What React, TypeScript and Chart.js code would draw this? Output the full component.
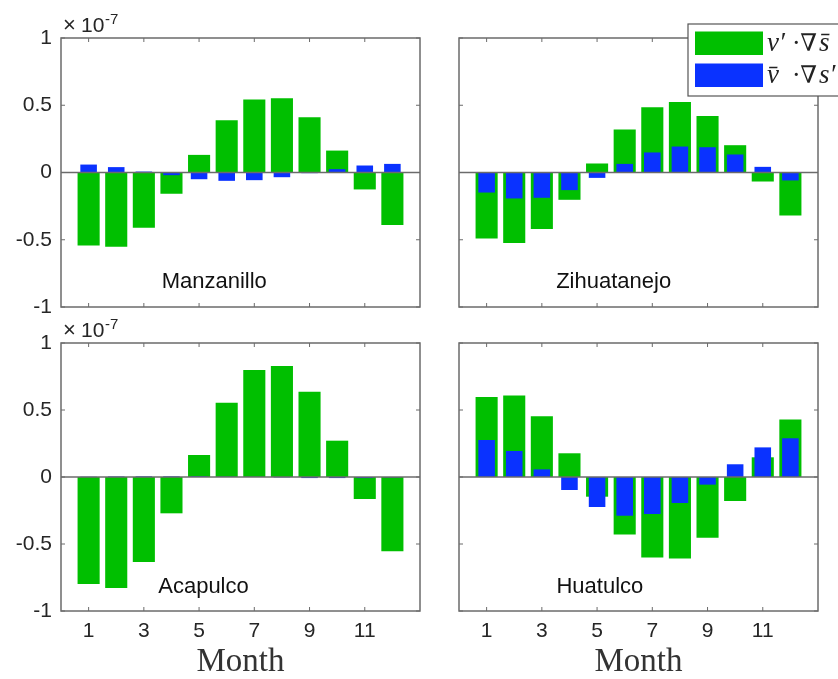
import React, { useEffect, useRef } from 'react';
import { Chart, registerables } from 'chart.js';

Chart.register(...registerables);

// ---------- data (values in units of 1e-7) ----------
const months = [1, 2, 3, 4, 5, 6, 7, 8, 9, 10, 11, 12];
const xTickValues = [1, 3, 5, 7, 9, 11];
const yTickValues = [-1, -0.5, 0, 0.5, 1];
const yTickLabels = ['-1', '-0.5', '0', '0.5', '1'];
const xAxisTitle = 'Month';
const exponentBase = '10';
const exponentPower = '-7';

const legendGreenLabel = 'v′ ·∇ s̄';
const legendBlueLabel = 'v̄ ·∇ s′';

const manzanilloGreen = [-0.542, -0.552, -0.411, -0.158, 0.131, 0.389, 0.542, 0.552, 0.411, 0.163, -0.126, -0.391];
const manzanilloBlue = [0.059, 0.04, 0.007, -0.02, -0.05, -0.062, -0.057, -0.035, -0.005, 0.025, 0.052, 0.064];

const zihuatanejoGreen = [-0.49, -0.525, -0.421, -0.203, 0.067, 0.319, 0.485, 0.525, 0.421, 0.203, -0.067, -0.319];
const zihuatanejoBlue = [-0.149, -0.193, -0.188, -0.131, -0.04, 0.064, 0.149, 0.193, 0.188, 0.134, 0.042, -0.059];

const acapulcoGreen = [-0.799, -0.828, -0.634, -0.271, 0.164, 0.555, 0.799, 0.828, 0.637, 0.271, -0.164, -0.555];
const acapulcoBlue = [0.002, 0.004, 0.005, 0.005, 0.005, 0.002, 0.001, -0.003, -0.008, -0.008, -0.008, -0.003];

const huatulcoGreen = [0.597, 0.609, 0.453, 0.177, -0.147, -0.43, -0.6, -0.609, -0.453, -0.179, 0.147, 0.43];
const huatulcoBlue = [0.276, 0.194, 0.057, -0.097, -0.224, -0.289, -0.276, -0.194, -0.057, 0.095, 0.221, 0.289];

// ---------- styles ----------
const GREEN = '#00bf00';
const BLUE = '#0a32ff';
const AXIS = '#6b6b6b';
const TEXT = '#262626';
const SANS = '"Liberation Sans", Arial, sans-serif';
const SERIF = '"Liberation Serif", "DejaVu Serif", serif';
const MATH = '"DejaVu Serif", serif';

type PanelCfg = {
  name: string;
  green: number[];
  blue: number[];
  left: number;
  top: number;
  w: number;
  h: number;
  padTop: number;
  padRight: number;
  yWidth: number;
  xHeight: number;
  showY: boolean;
  showX: boolean;
  nameX: number;
  nameY: number;
  exponent: boolean;
  legend: boolean;
};

const panels: PanelCfg[] = [
  { name: 'Manzanillo', green: manzanilloGreen, blue: manzanilloBlue, left: 0, top: 0, w: 430, h: 320, padTop: 38, padRight: 10, yWidth: 61, xHeight: 13, showY: true, showX: false, nameX: 5.55, nameY: -0.81, exponent: true, legend: false },
  { name: 'Zihuatanejo', green: zihuatanejoGreen, blue: zihuatanejoBlue, left: 430, top: 0, w: 408, h: 320, padTop: 38, padRight: 20, yWidth: 29, xHeight: 13, showY: false, showX: false, nameX: 5.6, nameY: -0.81, exponent: false, legend: true },
  { name: 'Acapulco', green: acapulcoGreen, blue: acapulcoBlue, left: 0, top: 310, w: 430, h: 369, padTop: 33, padRight: 10, yWidth: 61, xHeight: 68, showY: true, showX: true, nameX: 5.16, nameY: -0.82, exponent: true, legend: false },
  { name: 'Huatulco', green: huatulcoGreen, blue: huatulcoBlue, left: 430, top: 310, w: 408, h: 369, padTop: 33, padRight: 20, yWidth: 29, xHeight: 68, showY: false, showX: true, nameX: 5.1, nameY: -0.82, exponent: false, legend: false },
];

function makeOverlay(cfg: PanelCfg) {
  return {
    id: 'overlay',
    afterDraw(chart: any) {
      const { ctx, chartArea: a, scales } = chart;
      const xs = scales.x;
      const ys = scales.y;
      const line = (x1: number, y1: number, x2: number, y2: number) => {
        ctx.beginPath();
        ctx.moveTo(x1, y1);
        ctx.lineTo(x2, y2);
        ctx.stroke();
      };
      ctx.save();
      ctx.strokeStyle = AXIS;
      ctx.lineWidth = 1.5;
      // zero baseline
      const y0 = ys.getPixelForValue(0);
      line(a.left, y0, a.right, y0);
      // frame
      ctx.strokeRect(a.left, a.top, a.right - a.left, a.bottom - a.top);
      // inward tick marks
      ctx.lineWidth = 1;
      xTickValues.forEach((v) => {
        const px = xs.getPixelForValue(v);
        line(px, a.top, px, a.top + 4);
        line(px, a.bottom, px, a.bottom - 4);
      });
      yTickValues.forEach((v) => {
        const py = ys.getPixelForValue(v);
        line(a.left, py, a.left + 4, py);
        line(a.right, py, a.right - 4, py);
      });
      // station name
      ctx.fillStyle = '#111';
      ctx.font = `22px ${SANS}`;
      ctx.textAlign = 'center';
      ctx.textBaseline = 'middle';
      ctx.fillText(cfg.name, xs.getPixelForValue(cfg.nameX), ys.getPixelForValue(cfg.nameY));
      // exponent
      if (cfg.exponent) {
        ctx.fillStyle = TEXT;
        ctx.textAlign = 'left';
        ctx.textBaseline = 'alphabetic';
        ctx.font = `22px ${SANS}`;
        ctx.fillText('×', a.left + 2, a.top - 6);
        ctx.font = `21px ${SANS}`;
        ctx.fillText(exponentBase, a.left + 20, a.top - 6);
        ctx.font = `15px ${SANS}`;
        ctx.fillText(exponentPower, a.left + 44, a.top - 14);
      }
      // legend
      if (cfg.legend) {
        const bx = a.right - 130;
        const by = a.top - 14;
        ctx.fillStyle = '#fff';
        ctx.fillRect(bx, by, 200, 72);
        ctx.strokeStyle = '#555';
        ctx.lineWidth = 1.2;
        ctx.strokeRect(bx, by, 200, 72);
        const ds = chart.data.datasets;
        const rows = [
          { color: GREEN, label: ds[1].label, y: a.top - 6.5 },
          { color: BLUE, label: ds[0].label, y: a.top + 25.5 },
        ];
        rows.forEach((r) => {
          ctx.fillStyle = r.color;
          ctx.fillRect(bx + 7, r.y, 68, 23.5);
          const parts = String(r.label).split(' ');
          const base = r.y + 19;
          ctx.fillStyle = '#222';
          ctx.textBaseline = 'alphabetic';
          ctx.font = `italic 27px ${SERIF}`;
          ctx.textAlign = 'left';
          ctx.fillText(parts[0], bx + 79, base);
          ctx.font = `24px ${MATH}`;
          ctx.textAlign = 'right';
          ctx.fillText(parts[1], bx + 129, base);
          ctx.font = `italic 27px ${SERIF}`;
          ctx.textAlign = 'left';
          ctx.fillText(parts[2], bx + 131, base);
        });
      }
      ctx.restore();
    },
  };
}

function makeConfig(cfg: PanelCfg): any {
  return {
    type: 'bar',
    data: {
      datasets: [
        {
          label: legendBlueLabel,
          data: months.map((m, i) => ({ x: m, y: cfg.blue[i] })),
          backgroundColor: BLUE,
          barPercentage: 0.6,
          categoryPercentage: 1,
          grouped: false,
          order: 0,
        },
        {
          label: legendGreenLabel,
          data: months.map((m, i) => ({ x: m, y: cfg.green[i] })),
          backgroundColor: GREEN,
          barPercentage: 0.8,
          categoryPercentage: 1,
          grouped: false,
          order: 1,
        },
      ],
    },
    options: {
      responsive: false,
      animation: false,
      devicePixelRatio: 1,
      layout: { padding: { top: cfg.padTop, right: cfg.padRight, left: 0, bottom: 0 } },
      plugins: { legend: { display: false }, tooltip: { enabled: false } },
      scales: {
        x: {
          type: 'linear',
          min: 0,
          max: 13,
          offset: false,
          grid: { display: false, drawTicks: false },
          border: { display: false },
          afterBuildTicks: (s: any) => {
            s.ticks = xTickValues.map((v) => ({ value: v }));
          },
          ticks: {
            display: cfg.showX,
            autoSkip: false,
            maxRotation: 0,
            padding: 8,
            color: TEXT,
            font: { family: SANS, size: 21 },
            callback: (v: number) => String(v),
          },
          title: {
            display: cfg.showX,
            text: xAxisTitle,
            color: '#333',
            font: { family: SERIF, size: 33, lineHeight: 1 },
            padding: { top: 0, bottom: 0 },
          },
          afterFit: (s: any) => {
            s.height = cfg.xHeight;
            s.paddingLeft = 0;
            s.paddingRight = 0;
          },
        },
        y: {
          type: 'linear',
          min: -1,
          max: 1,
          grid: { display: false, drawTicks: false },
          border: { display: false },
          afterBuildTicks: (s: any) => {
            s.ticks = yTickValues.map((v) => ({ value: v }));
          },
          ticks: {
            display: cfg.showY,
            padding: 9,
            color: TEXT,
            font: { family: SANS, size: 21 },
            callback: (_v: number, i: number) => yTickLabels[i],
          },
          afterFit: (s: any) => {
            s.width = cfg.yWidth;
            s.paddingTop = 0;
            s.paddingBottom = 0;
          },
        },
      },
    },
    plugins: [makeOverlay(cfg)],
  };
}

function Panel({ cfg }: { cfg: PanelCfg }) {
  const ref = useRef<HTMLCanvasElement>(null);
  useEffect(() => {
    const chart = new Chart(ref.current as HTMLCanvasElement, makeConfig(cfg));
    return () => chart.destroy();
  }, [cfg]);
  return (
    <canvas
      ref={ref}
      width={cfg.w}
      height={cfg.h}
      style={{ position: 'absolute', left: cfg.left, top: cfg.top, width: cfg.w, height: cfg.h }}
    />
  );
}

export default function App() {
  return (
    <div style={{ position: 'fixed', left: 0, top: 0, width: 838, height: 679, background: '#fff', overflow: 'hidden' }}>
      {panels.map((p) => (
        <Panel key={p.name} cfg={p} />
      ))}
    </div>
  );
}
